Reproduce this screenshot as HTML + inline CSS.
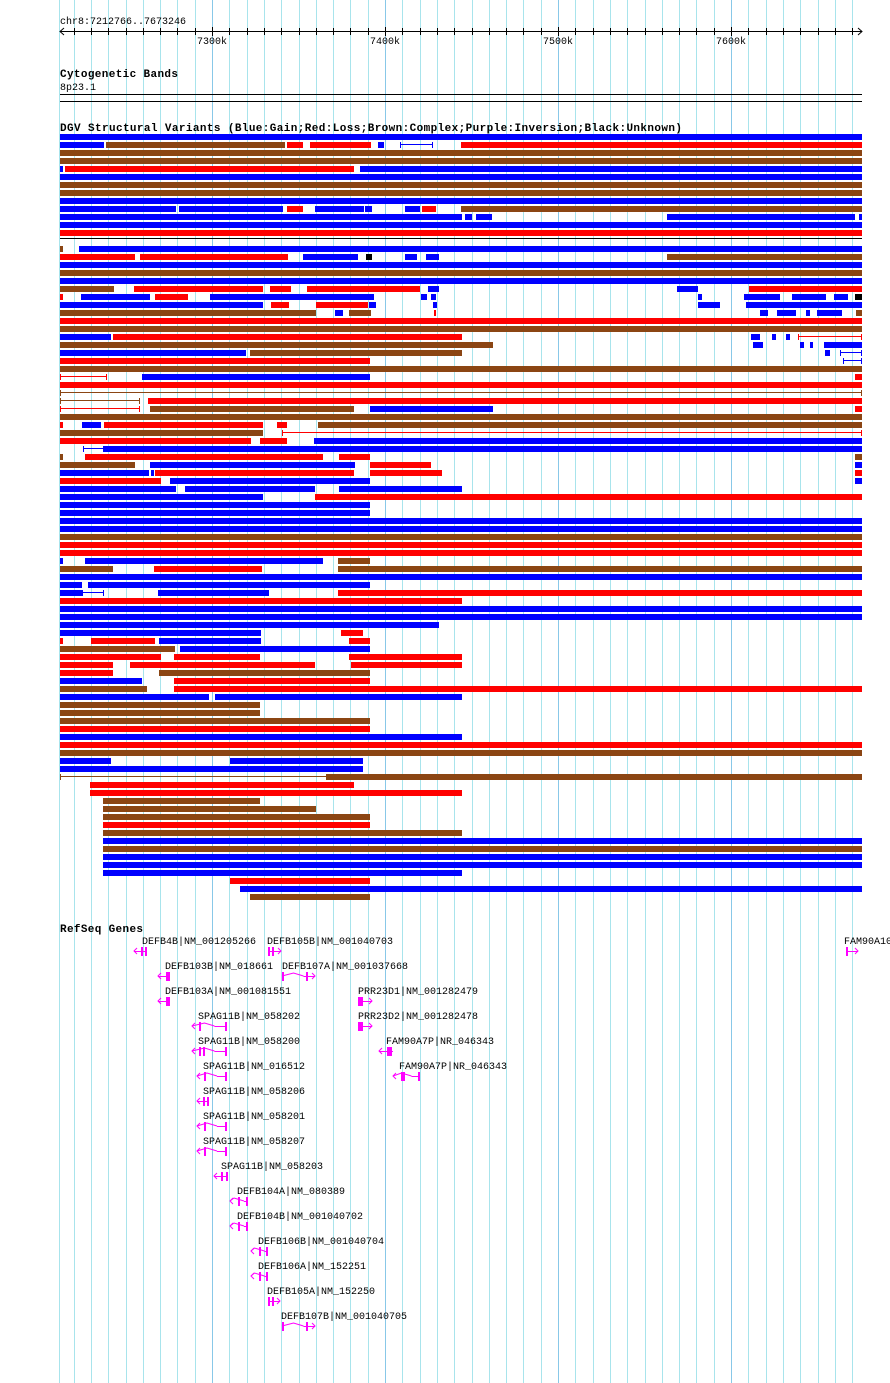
<!DOCTYPE html>
<html><head><meta charset="utf-8"><style>
html,body{margin:0;padding:0;background:#fff;width:890px;height:1383px;overflow:hidden}
svg{display:block}
text{font-family:"Liberation Mono",monospace;font-size:10px;fill:#000}
.h{font-weight:bold;font-size:11px}
</style></head><body>
<svg id="s" width="890" height="1383" xmlns="http://www.w3.org/2000/svg">
<g id="grid"></g>
<g id="bars"></g>
<g id="genes" fill="#f0f" stroke="#f0f"></g>
<text x="60" y="24">chr8:7212766..7673246</text>
<text x="197" y="44">7300k</text>
<text x="370" y="44">7400k</text>
<text x="543" y="44">7500k</text>
<text x="716" y="44">7600k</text>
<text x="60" y="77" class="h" textLength="118">Cytogenetic Bands</text>
<text x="60" y="90">8p23.1</text>
<text x="60" y="131" class="h" textLength="622">DGV Structural Variants (Blue:Gain;Red:Loss;Brown:Complex;Purple:Inversion;Black:Unknown)</text>
<text x="60" y="932" class="h" textLength="83">RefSeq Genes</text>
<text x="142" y="944">DEFB4B|NM_001205266</text>
<text x="267" y="944">DEFB105B|NM_001040703</text>
<text x="844" y="944">FAM90A10</text>
<text x="165" y="969">DEFB103B|NM_018661</text>
<text x="282" y="969">DEFB107A|NM_001037668</text>
<text x="165" y="994">DEFB103A|NM_001081551</text>
<text x="358" y="994">PRR23D1|NM_001282479</text>
<text x="198" y="1019">SPAG11B|NM_058202</text>
<text x="358" y="1019">PRR23D2|NM_001282478</text>
<text x="198" y="1044">SPAG11B|NM_058200</text>
<text x="386" y="1044">FAM90A7P|NR_046343</text>
<text x="203" y="1069">SPAG11B|NM_016512</text>
<text x="399" y="1069">FAM90A7P|NR_046343</text>
<text x="203" y="1094">SPAG11B|NM_058206</text>
<text x="203" y="1119">SPAG11B|NM_058201</text>
<text x="203" y="1144">SPAG11B|NM_058207</text>
<text x="221" y="1169">SPAG11B|NM_058203</text>
<text x="237" y="1194">DEFB104A|NM_080389</text>
<text x="237" y="1219">DEFB104B|NM_001040702</text>
<text x="258" y="1244">DEFB106B|NM_001040704</text>
<text x="258" y="1269">DEFB106A|NM_152251</text>
<text x="267" y="1294">DEFB105A|NM_152250</text>
<text x="281" y="1319">DEFB107B|NM_001040705</text>
</svg>
<script>
var NS="http://www.w3.org/2000/svg";
function el(p,t,a){var e=document.createElementNS(NS,t);for(var k in a)e.setAttribute(k,a[k]);document.getElementById(p).appendChild(e);return e;}
// grid
el("grid","rect",{x:59,y:0,width:1,height:1383,fill:"#a8e4ec"});
for(var k=0;k<=45;k++){var x=Math.round(73.6+k*17.3);var maj=((k+2)%10==0);
el("grid","rect",{x:x,y:0,width:1,height:1383,fill:maj?"#88c8e8":"#a8e4ec"});}
// ruler
el("grid","rect",{x:60,y:31,width:802,height:1,fill:"#000"});
el("grid","path",{d:"M64,28 L60,31.5 L64,35 M858,28 L862,31.5 L858,35",stroke:"#000",fill:"none"});
for(var k=0;k<=45;k++){var x=Math.round(73.6+k*17.3);var maj=((k+2)%10==0);
el("grid","rect",{x:x,y:maj?27:28,width:1,height:maj?9:7,fill:"#000"});}
el("grid","rect",{x:60,y:94,width:802,height:1,fill:"#000"});
el("grid","rect",{x:60,y:101,width:802,height:1,fill:"#000"});
el("grid","rect",{x:60,y:238,width:802,height:1,fill:"#000"});
// bars
var C={b:"#0000ff",r:"#ff0000",n:"#8b4513",k:"#000"};
var F=[60,862];
var rows=[
[134,"b",60,862],
[142,"b",60,104,"n",106,285,"r",287,303,"r",310,371,"b",378,384,"bl",400,433,"r",461,862],
[150,"n",60,862],[158,"n",60,862],
[166,"b",60,63,"r",65,354,"b",360,862],
[174,"b",60,862],[182,"n",60,862],[190,"n",60,862],[198,"b",60,862],
[206,"b",60,176,"b",179,283,"r",287,303,"b",315,364,"b",365,372,"b",405,420,"r",422,436,"n",461,862],
[214,"b",60,462,"b",465,472,"b",476,492,"b",667,855,"b",859,862],
[222,"b",60,862],[230,"r",60,862],
[246,"n",60,63,"b",79,862],
[254,"r",60,135,"r",140,288,"b",303,358,"k",366,372,"b",405,417,"b",426,439,"n",667,862],
[262,"b",60,862],[270,"n",60,862],[278,"b",60,862],
[286,"n",60,114,"r",134,263,"r",270,291,"r",307,420,"b",428,439,"b",677,698,"r",749,862],
[294,"r",60,63,"b",81,150,"r",155,188,"b",210,374,"b",421,427,"b",431,436,"b",698,702,"b",744,780,"b",792,826,"b",834,848,"k",855,862],
[302,"b",60,263,"r",271,289,"r",316,368,"b",369,376,"b",433,437,"b",698,720,"b",746,862],
[310,"n",60,316,"b",335,343,"n",349,371,"r",434,436,"b",760,768,"b",777,796,"b",806,810,"b",817,842,"n",856,862],
[318,"r",60,862],[326,"n",60,862],
[334,"b",60,111,"r",113,462,"b",751,760,"b",772,776,"b",786,790,"rl",798,862],
[342,"n",60,493,"b",753,763,"b",800,804,"b",810,813,"b",824,862],
[350,"b",60,246,"n",250,462,"b",825,830,"bl",840,862],
[358,"r",60,370,"bl",843,862],
[366,"n",60,862],
[374,"rl",60,107,"b",142,370,"r",855,862],
[382,"r",60,862],
[390,"nl",60,862],
[398,"nl",60,140,"r",148,862],
[406,"rl",60,140,"n",150,354,"b",370,493,"r",855,862],
[414,"n",60,862],
[422,"r",60,63,"b",82,101,"r",104,263,"r",277,287,"n",318,862],
[430,"n",60,263,"rl",282,862],
[438,"r",60,251,"r",260,287,"b",314,862],
[446,"bl",83,104,"b",104,862],
[454,"n",60,63,"r",85,323,"r",339,370,"n",855,862],
[462,"n",60,135,"b",150,355,"r",370,431,"b",855,862],
[470,"b",60,149,"b",151,154,"r",155,354,"r",370,442,"r",855,862],
[478,"r",60,161,"b",170,370,"b",855,862],
[486,"b",60,176,"b",185,315,"b",339,462],
[494,"b",60,263,"r",315,862],
[502,"b",60,370],[510,"b",60,370],
[518,"b",60,862],[526,"b",60,862],[534,"n",60,862],[542,"r",60,862],[550,"r",60,862],
[558,"b",60,63,"b",85,323,"n",338,370],
[566,"n",60,113,"r",154,262,"n",338,862],
[574,"b",60,862],
[582,"b",60,82,"b",88,370],
[590,"b",60,82,"bl",82,104,"b",158,269,"r",338,862],
[598,"r",60,462],
[606,"b",60,862],[614,"b",60,862],
[622,"b",60,439],
[630,"b",60,261,"r",341,363],
[638,"r",60,63,"r",91,155,"b",159,261,"r",349,370],
[646,"n",60,175,"b",180,370],
[654,"r",60,161,"r",174,260,"r",349,462],
[662,"r",60,113,"r",130,315,"r",351,462],
[670,"r",60,113,"n",159,370],
[678,"b",60,142,"r",174,370],
[686,"n",60,147,"r",174,862],
[694,"b",60,209,"b",215,462],
[702,"n",60,260],[710,"n",60,260],[718,"n",60,370],[726,"r",60,370],[734,"b",60,462],
[742,"r",60,862],[750,"n",60,862],
[758,"b",60,111,"b",230,363],
[766,"b",60,363],
[774,"nl",60,327,"n",327,862],
[782,"r",90,354],[790,"r",90,462],
[798,"n",103,260],[806,"n",103,316],[814,"n",103,370],[822,"r",103,370],[830,"n",103,462],
[838,"b",103,862],[846,"n",103,862],[854,"b",103,862],[862,"b",103,862],[870,"b",103,462],
[878,"r",230,370],[886,"b",240,862],[894,"n",250,370]
];
rows.forEach(function(r){var y=r[0];for(var i=1;i<r.length;i+=3){var t=r[i],a=r[i+1],b=r[i+2];
if(t.length==2){var c=C[t[0]];el("bars","rect",{x:a,y:y+2,width:b-a,height:1,fill:c});
el("bars","rect",{x:a,y:y,width:1,height:6,fill:c});el("bars","rect",{x:b-1,y:y,width:1,height:6,fill:c});}
else el("bars","rect",{x:a,y:y,width:b-a,height:6,fill:C[t]});}});
// genes
function gene(x1,x2,y,dir,ex,caret){
 if(caret){var m=(x1+x2)/2;el("genes","path",{d:"M"+x1+","+y+" L"+(m-5)+","+(y-3)+" L"+(m+5)+","+y,fill:"none","stroke-width":1});
  el("genes","rect",{x:m+5,y:y,width:x2-m-5,height:1,stroke:"none"});}
 else el("genes","rect",{x:x1,y:y,width:x2-x1,height:1,stroke:"none"});
 ex.forEach(function(e){el("genes","rect",{x:e[0],y:y-4,width:e[1],height:9,stroke:"none"});});
 if(dir<0)el("genes","path",{d:"M"+(x1+3)+","+(y-3)+" L"+x1+","+y+" L"+(x1+3)+","+(y+3),fill:"none"});
 if(dir>0)el("genes","path",{d:"M"+(x2-3)+","+(y-3)+" L"+x2+","+y+" L"+(x2-3)+","+(y+3),fill:"none"});
}
gene(134,147,951,-1,[[141,2],[145,2]]);
gene(268,281,951,1,[[268,2],[272,2]]);
gene(846,858,951,1,[[846,2]]);
gene(158,170,976,-1,[[166,4]]);
gene(282,315,976,1,[[282,2],[306,2]],1);
gene(158,170,1001,-1,[[166,4]]);
gene(358,372,1001,1,[[358,5]]);
gene(192,227,1026,-1,[[199,2],[225,2]],1);
gene(358,372,1026,1,[[358,5]]);
gene(192,227,1051,-1,[[199,2],[203,2],[225,2]],1);
gene(379,393,1051,-1,[[387,5]]);
gene(197,227,1076,-1,[[204,2],[225,2]],1);
gene(393,420,1076,-1,[[401,4],[418,2]],1);
gene(197,208,1101,-1,[[203,2],[207,2]]);
gene(197,227,1126,-1,[[204,2],[225,2]],1);
gene(197,227,1151,-1,[[204,2],[225,2]],1);
gene(214,228,1176,-1,[[221,2],[226,2]]);
gene(230,248,1201,-1,[[238,2],[246,2]],1);
gene(230,248,1226,-1,[[238,2],[246,2]],1);
gene(251,268,1251,-1,[[259,2],[266,2]],1);
gene(251,268,1276,-1,[[259,2],[266,2]],1);
gene(268,280,1301,1,[[268,2],[272,2]]);
gene(282,315,1326,1,[[282,2],[306,2]],1);
</script>
</body></html>
